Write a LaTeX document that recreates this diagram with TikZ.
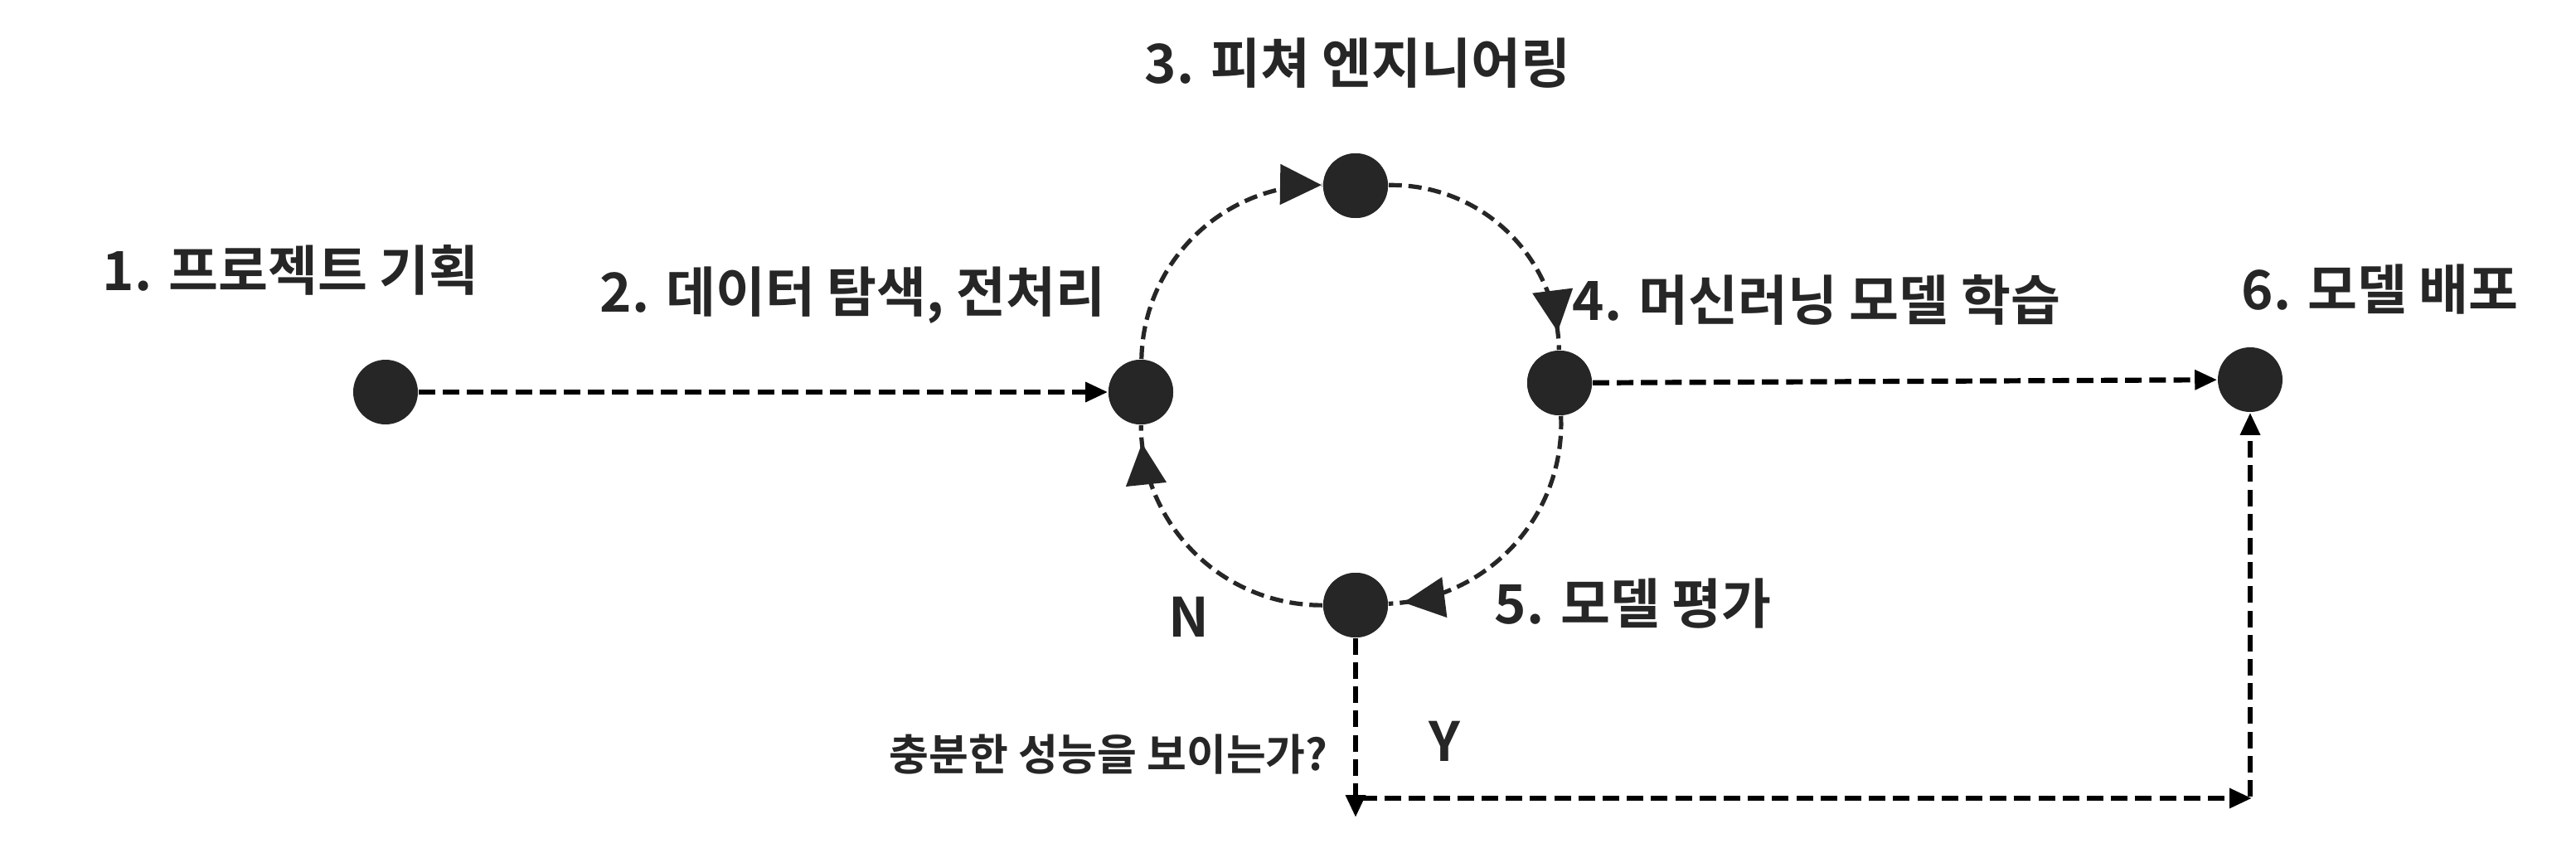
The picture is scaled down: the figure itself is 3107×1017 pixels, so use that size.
\documentclass[tikz,border=0pt]{standalone}
\usepackage{fontspec}
\setmainfont{Noto Sans CJK KR}[BoldFont=* Bold]
\usetikzlibrary{arrows.meta,decorations.markings}
\definecolor{ink}{HTML}{262626}
\tikzset{
  dot/.style={circle,fill=ink,draw=none,minimum size=19.5pt,inner sep=0pt},
  lbl/.style={anchor=base west,inner sep=0pt,text=ink,font=\fontsize{16.3pt}{19pt}\selectfont\bfseries},
  smalllbl/.style={anchor=base west,inner sep=0pt,text=ink,font=\fontsize{13pt}{15pt}\selectfont\bfseries},
  link/.style={draw=black,line width=1.55pt,dash pattern=on 5pt off 2.3pt,-{Triangle[length=6.75pt,width=5.75pt]}},
  cyc/.style={draw=ink,line width=1.3pt,dash pattern=on 4pt off 2pt,bend left=45},
  tipat/.style={postaction={decorate},decoration={markings,mark=at position #1 with {\arrow[ink]{Triangle[length=12.5pt,width=12pt]}}}}
}
\begin{document}
\begin{tikzpicture}[x=0.25pt,y=-0.25pt]
\useasboundingbox (0,0) rectangle (3107,1017);
\coordinate (n1c) at (465,473);
\coordinate (n2c) at (1376,473);
\coordinate (n3c) at (1635,224);
\coordinate (n4c) at (1881,462);
\coordinate (n5c) at (1635,730);
\coordinate (n6c) at (2714,458);
\node[dot] (n1) at (n1c) {};
\node[dot] (n2) at (n2c) {};
\node[dot] (n3) at (n3c) {};
\node[dot] (n4) at (n4c) {};
\node[dot] (n5) at (n5c) {};
\node[dot] (n6) at (n6c) {};
\coordinate (c1) at (1635,986);
\coordinate (h0) at (1641,963);
\coordinate (c2) at (2716,963);
\coordinate (v0) at (2714,961);

\draw[cyc,tipat=-0.3pt] (n2) to (n3);
\draw[cyc,tipat=-5.5pt] (n3) to (n4);
\draw[cyc,tipat=-4.5pt] (n4) to (n5);
\draw[cyc,tipat=-5.5pt] (n5) to (n2);
\draw[link] (n1) -- (n2);
\draw[link] (n4) -- (n6);
\draw[link] (n5) -- (c1);
\draw[link] (h0) -- (c2);
\draw[link] (v0) -- (n6);

% dots again on top of the arcs
\node[dot] at (n2c) {};
\node[dot] at (n3c) {};
\node[dot] at (n4c) {};
\node[dot] at (n5c) {};

\node[lbl] (t1) at (123,350) {1. 프로젝트 기획};
\node[lbl] (t2) at (723,376) {2. 데이터 탐색, 전처리};
\node[lbl] (t3) at (1380,100) {3. 피쳐 엔지니어링};
\node[lbl] (t4) at (1896,386) {4. 머신러닝 모델 학습};
\node[lbl] (t5) at (1802,752) {5. 모델 평가};
\node[lbl] (t6) at (2703,373) {6. 모델 배포};
\node[lbl] (tn) at (1409,768) {N};
\node[lbl] (ty) at (1723,918) {Y};
\node[smalllbl] (tq) at (1072,929) {충분한 성능을 보이는가?};
\end{tikzpicture}
\end{document}
